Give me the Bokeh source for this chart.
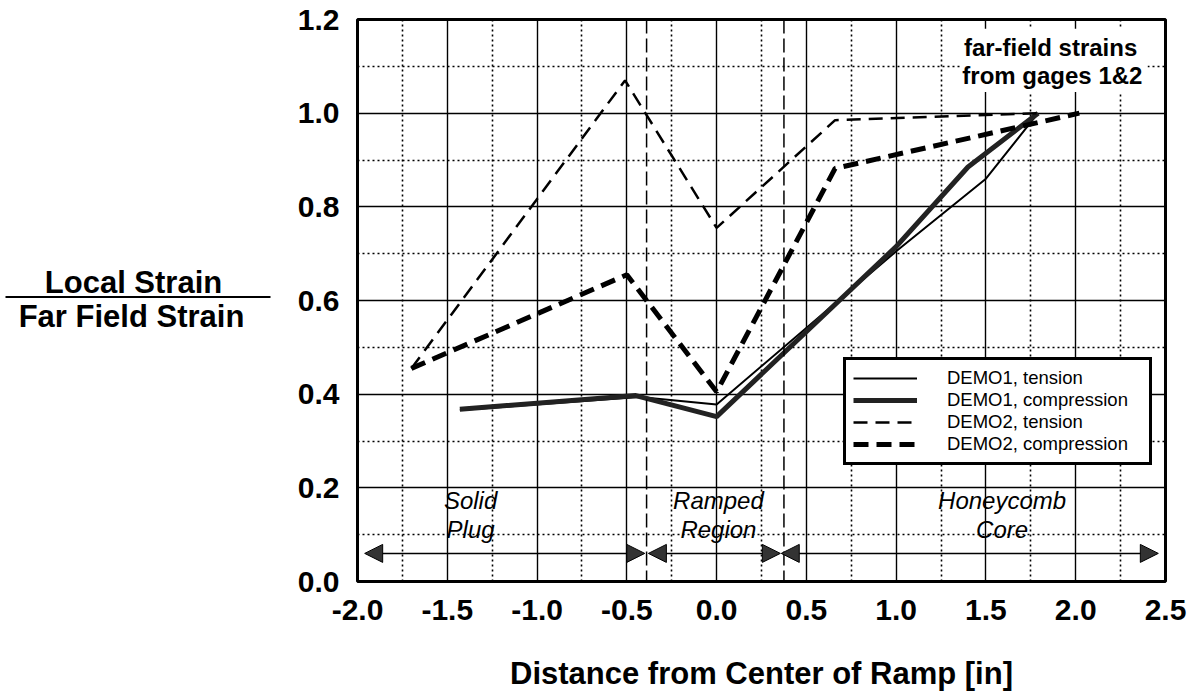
from bokeh.plotting import figure
from bokeh.layouts import row
from bokeh.models import (Range1d, FixedTicker, NumeralTickFormatter, Legend, LegendItem,
                          Label, Arrow, NormalHead, Span, BoxAnnotation)
from bokeh.core.properties import value
from bokeh.embed import file_html
from bokeh.resources import INLINE

# ---------------- data ----------------
demo1_tension_x = [-1.43, -0.43, 0.0, 1.0, 1.5, 1.79]
demo1_tension_y = [0.366, 0.394, 0.378, 0.705, 0.86, 1.0]

demo1_comp_x = [-1.43, -0.45, 0.0, 1.0, 1.4, 1.79]
demo1_comp_y = [0.368, 0.397, 0.352, 0.715, 0.885, 1.0]

demo2_tension_x = [-1.70, -0.51, 0.0, 0.66, 1.79]
demo2_tension_y = [0.455, 1.07, 0.755, 0.985, 1.0]

demo2_comp_x = [-1.70, -0.50, 0.0, 0.66, 2.02]
demo2_comp_y = [0.455, 0.655, 0.405, 0.882, 1.0]

series_names = ["DEMO1, tension", "DEMO1, compression", "DEMO2, tension", "DEMO2, compression"]

x_major = [-2.0, -1.5, -1.0, -0.5, 0.0, 0.5, 1.0, 1.5, 2.0, 2.5]
x_minor = [-1.75, -1.25, -0.75, -0.25, 0.25, 0.75, 1.25, 1.75, 2.25]
y_major = [0.0, 0.2, 0.4, 0.6, 0.8, 1.0, 1.2]
y_minor = [0.1, 0.3, 0.5, 0.7, 0.9, 1.1]

region_bounds = [-0.39, 0.375]
region_line1 = ["Solid", "Ramped", "Honeycomb"]
region_line2 = ["Plug", "Region", "Core"]
region_center = [-1.37, 0.01, 1.59]
region_arrow_start = [-1.96, -0.38, 0.36]
region_arrow_end = [-0.40, 0.355, 2.46]

x_title = "Distance from Center of Ramp [in]"
y_title_top = "Local Strain"
y_title_bottom = "Far Field Strain"
note_lines = ["far-field strains", "from gages 1&2"]

FONT = "Liberation Sans"
H = 693
LEFT_W = 290
TOTAL_W = 1190
FRAME_TOP = 19
FRAME_BOTTOM = 584

# ---------------- left panel: y-axis title written as a fraction ----------------
# (its frame is aligned with the main frame by the row layout; y runs in page pixels)
pl = figure(width=LEFT_W, height=H, output_backend="svg", toolbar_location=None,
            x_range=Range1d(0, LEFT_W), y_range=Range1d(FRAME_BOTTOM, FRAME_TOP),
            x_axis_location=None, y_axis_location=None, min_border=0)
pl.outline_line_color = None
pl.grid.visible = False
pl.background_fill_color = "white"
pl.border_fill_color = "white"
pl.text(x=[133], y=[283], text=[y_title_top], text_align="center", text_baseline="alphabetic",
        text_font=value(FONT), text_font_style="bold", text_font_size="31px", text_color="black")
pl.text(x=[131], y=[318], text=[y_title_bottom], text_align="center", text_baseline="alphabetic",
        text_font=value(FONT), text_font_style="bold", text_font_size="31px", text_color="black")
pl.segment(x0=[5], y0=[298], x1=[270], y1=[298], line_color="black", line_width=2)

# ---------------- main figure ----------------
p = figure(width=TOTAL_W - LEFT_W, height=H, output_backend="svg", toolbar_location=None,
           x_range=Range1d(-2.0, 2.5), y_range=Range1d(0.0, 1.2),
           min_border_left=357 - LEFT_W, min_border_right=25, min_border_top=FRAME_TOP,
           min_border_bottom=H - FRAME_BOTTOM)
p.background_fill_color = "white"
p.border_fill_color = "white"
p.outline_line_color = "black"
p.outline_line_width = 3
p.outline_line_alpha = 1.0

p.xaxis.ticker = FixedTicker(ticks=x_major, minor_ticks=x_minor)
p.yaxis.ticker = FixedTicker(ticks=y_major, minor_ticks=y_minor)
p.xaxis.formatter = NumeralTickFormatter(format="0.0")
p.yaxis.formatter = NumeralTickFormatter(format="0.0")
for ax in (p.xaxis, p.yaxis):
    ax.axis_line_color = None
    ax.major_tick_line_color = None
    ax.minor_tick_line_color = None
    ax.major_label_text_font = FONT
    ax.major_label_text_font_style = "bold"
    ax.major_label_text_font_size = "30px"
    ax.major_label_text_color = "black"
p.xaxis.major_label_standoff = 12
p.yaxis.major_label_standoff = 12

p.xaxis.axis_label = x_title
p.xaxis.axis_label_text_font = FONT
p.xaxis.axis_label_text_font_style = "bold"
p.xaxis.axis_label_text_font_size = "31px"
p.xaxis.axis_label_text_color = "black"
p.xaxis.axis_label_standoff = 33

for g in (p.xgrid, p.ygrid):
    g.grid_line_color = "black"
    g.grid_line_width = 1.4
    g.grid_line_alpha = 1.0
    g.minor_grid_line_color = "black"
    g.minor_grid_line_width = 1.6
    g.minor_grid_line_dash = "2 3"

# region boundaries
for xb in region_bounds:
    p.add_layout(Span(location=xb, dimension="height", line_color="black",
                      line_width=1.5, line_dash="14 5"))

# series
r1 = p.line(demo1_tension_x, demo1_tension_y, line_color="black", line_width=2)
r2 = p.line(demo1_comp_x, demo1_comp_y, line_color="#222222", line_width=5)
r3 = p.line(demo2_tension_x, demo2_tension_y, line_color="black", line_width=2.5, line_dash="14 8")
r4 = p.line(demo2_comp_x, demo2_comp_y, line_color="black", line_width=5, line_dash="15 8")

# region arrows and labels
for xs, xe in zip(region_arrow_start, region_arrow_end):
    p.add_layout(Arrow(x_start=xs, y_start=0.06, x_end=xe, y_end=0.06,
                       line_color="black", line_width=1.5,
                       start=NormalHead(size=18, fill_color="#333333", line_color="black", line_width=1),
                       end=NormalHead(size=18, fill_color="#333333", line_color="black", line_width=1)))
for xc, t1, t2 in zip(region_center, region_line1, region_line2):
    p.add_layout(Label(x=xc, y=0.174, text=t1, text_align="center", text_baseline="alphabetic",
                       text_font=FONT, text_font_style="italic", text_font_size="24px",
                       text_color="black"))
    p.add_layout(Label(x=xc, y=0.110, text=t2, text_align="center", text_baseline="alphabetic",
                       text_font=FONT, text_font_style="italic", text_font_size="24px",
                       text_color="black"))

# far-field note
p.add_layout(BoxAnnotation(left=1.36, right=2.40, bottom=1.045, top=1.18,
                           fill_color="white", fill_alpha=1.0, line_color=None))
p.add_layout(Label(x=1.86, y=1.140, text=note_lines[0], text_align="center", text_baseline="alphabetic",
                   text_font=FONT, text_font_style="bold", text_font_size="24px", text_color="black"))
p.add_layout(Label(x=1.87, y=1.080, text=note_lines[1], text_align="center", text_baseline="alphabetic",
                   text_font=FONT, text_font_style="bold", text_font_size="24px", text_color="black"))

# legend
legend = Legend(items=[LegendItem(label=series_names[0], renderers=[r1]),
                       LegendItem(label=series_names[1], renderers=[r2]),
                       LegendItem(label=series_names[2], renderers=[r3]),
                       LegendItem(label=series_names[3], renderers=[r4])],
                location=(486, 116), margin=0, padding=7, spacing=0,
                glyph_width=64, glyph_height=20, label_height=20, label_standoff=30,
                label_width=195,
                label_text_font=FONT, label_text_font_size="18.5px", label_text_color="black",
                label_text_line_height=1.0,
                border_line_color="black", border_line_width=3, border_line_alpha=1.0,
                background_fill_color="white", background_fill_alpha=1.0)
p.add_layout(legend)

layout = row(pl, p, spacing=0)
open("out.html", "w").write(file_html(layout, INLINE))
